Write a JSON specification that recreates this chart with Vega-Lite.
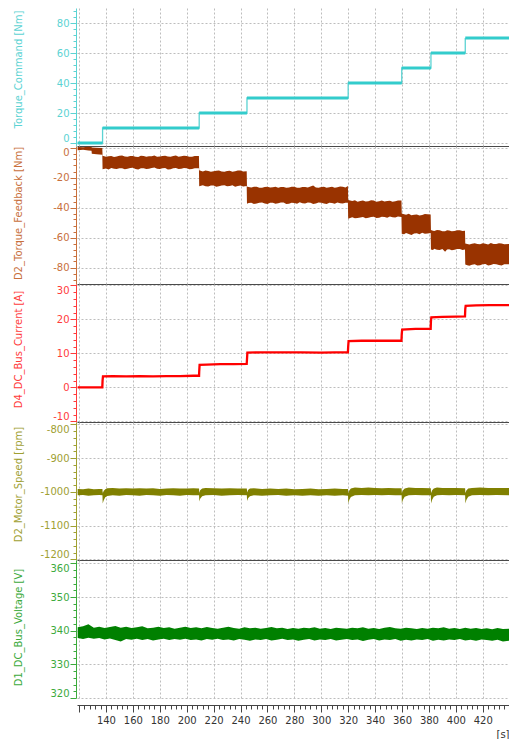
{
  "$schema": "https://vega.github.io/schema/vega-lite/v6.json",
  "padding": {"left": 13, "top": 8, "right": 0, "bottom": 0},
  "background": "white",
  "spacing": 0,
  "bounds": "flush",
  "config": {
    "view": {"stroke": null},
    "axis": {
      "labelFont": "DejaVu Sans",
      "titleFont": "DejaVu Sans",
      "labelFontSize": 10,
      "titleFontSize": 10,
      "titleFontWeight": "normal",
      "gridDash": [2, 2],
      "gridColor": "#BDBDBD",
      "gridWidth": 1,
      "tickWidth": 1,
      "domainWidth": 1
    }
  },
  "datasets": {
    "cmd": [
      {"t0": 119, "t1": 137.5, "v": 0},
      {"t0": 137.5, "t1": 209.3, "v": 10},
      {"t0": 209.3, "t1": 244.8, "v": 20},
      {"t0": 244.8, "t1": 320, "v": 30},
      {"t0": 320, "t1": 359.8, "v": 40},
      {"t0": 359.8, "t1": 381.5, "v": 50},
      {"t0": 381.5, "t1": 407, "v": 60},
      {"t0": 407, "t1": 439.5, "v": 70}
    ],
    "fb": [
      {"t": 119, "lo": -1.8, "hi": 0.4}, {"t": 123, "lo": -1.5, "hi": 0.2}, {"t": 127, "lo": -2.0, "hi": 0.5},
      {"t": 129.3, "lo": -2.2, "hi": 0.3}, {"t": 129.5, "lo": -4.2, "hi": 0}, {"t": 133, "lo": -4.5, "hi": -0.2},
      {"t": 137.3, "lo": -4.8, "hi": -0.3},
      {"t": 137.5, "lo": -14.5, "hi": -5.5}, {"t": 140, "lo": -14.0, "hi": -6.2}, {"t": 142, "lo": -14.6, "hi": -5.8}, {"t": 144, "lo": -13.6, "hi": -5.6},
      {"t": 146, "lo": -14.1, "hi": -6.3}, {"t": 148, "lo": -14.4, "hi": -6.0}, {"t": 150, "lo": -13.9, "hi": -5.5}, {"t": 152, "lo": -13.8, "hi": -5.4}, {"t": 154, "lo": -14.5, "hi": -6.0}, {"t": 156, "lo": -14.2, "hi": -6.1},
      {"t": 158, "lo": -13.7, "hi": -5.6}, {"t": 160, "lo": -13.5, "hi": -5.7}, {"t": 162, "lo": -14.3, "hi": -6.2}, {"t": 164, "lo": -14.6, "hi": -6.3}, {"t": 166, "lo": -13.8, "hi": -5.5}, {"t": 168, "lo": -13.9, "hi": -5.6},
      {"t": 170, "lo": -14.4, "hi": -6.1}, {"t": 172, "lo": -14.1, "hi": -5.9}, {"t": 174, "lo": -13.6, "hi": -5.8}, {"t": 176, "lo": -13.4, "hi": -5.3}, {"t": 178, "lo": -14.2, "hi": -6.2}, {"t": 180, "lo": -14.3, "hi": -6.0},
      {"t": 182, "lo": -13.8, "hi": -5.7}, {"t": 184, "lo": -13.7, "hi": -5.5}, {"t": 186, "lo": -14.6, "hi": -6.0}, {"t": 188, "lo": -14.5, "hi": -6.2}, {"t": 190, "lo": -13.9, "hi": -5.6}, {"t": 192, "lo": -13.6, "hi": -5.4},
      {"t": 194, "lo": -14.4, "hi": -6.1}, {"t": 196, "lo": -14.2, "hi": -5.9}, {"t": 198, "lo": -13.7, "hi": -5.5}, {"t": 200, "lo": -13.8, "hi": -5.6}, {"t": 202, "lo": -14.5, "hi": -6.2}, {"t": 204, "lo": -14.4, "hi": -6.1},
      {"t": 206, "lo": -13.8, "hi": -5.6}, {"t": 209.1, "lo": -13.9, "hi": -5.7},
      {"t": 209.3, "lo": -25.8, "hi": -15.2}, {"t": 212, "lo": -25.2, "hi": -16.0}, {"t": 214, "lo": -25.9, "hi": -15.4}, {"t": 216, "lo": -26.0, "hi": -15.6},
      {"t": 218, "lo": -25.3, "hi": -16.2}, {"t": 220, "lo": -25.4, "hi": -15.9}, {"t": 222, "lo": -26.1, "hi": -15.5}, {"t": 224, "lo": -25.9, "hi": -15.3}, {"t": 226, "lo": -25.4, "hi": -16.0}, {"t": 228, "lo": -25.1, "hi": -16.1},
      {"t": 230, "lo": -25.9, "hi": -15.6}, {"t": 232, "lo": -25.7, "hi": -15.5}, {"t": 234, "lo": -25.2, "hi": -16.1}, {"t": 236, "lo": -26.2, "hi": -15.8}, {"t": 238, "lo": -25.6, "hi": -15.3}, {"t": 240, "lo": -25.3, "hi": -15.4},
      {"t": 242, "lo": -26.0, "hi": -16.0}, {"t": 244.6, "lo": -25.6, "hi": -15.9},
      {"t": 244.8, "lo": -37.5, "hi": -26.0}, {"t": 246, "lo": -37.0, "hi": -26.4}, {"t": 248, "lo": -36.8, "hi": -26.6}, {"t": 250, "lo": -37.6, "hi": -26.1}, {"t": 252, "lo": -37.3, "hi": -26.2},
      {"t": 254, "lo": -36.9, "hi": -26.9}, {"t": 256, "lo": -36.6, "hi": -26.8}, {"t": 258, "lo": -37.4, "hi": -26.3}, {"t": 260, "lo": -37.6, "hi": -26.1}, {"t": 262, "lo": -36.8, "hi": -26.7}, {"t": 264, "lo": -36.9, "hi": -26.5},
      {"t": 266, "lo": -37.5, "hi": -26.2}, {"t": 268, "lo": -37.2, "hi": -26.9}, {"t": 270, "lo": -36.6, "hi": -26.4}, {"t": 272, "lo": -36.7, "hi": -26.3}, {"t": 274, "lo": -37.6, "hi": -26.8}, {"t": 276, "lo": -37.5, "hi": -26.7},
      {"t": 278, "lo": -36.9, "hi": -26.1}, {"t": 280, "lo": -37.0, "hi": -26.2}, {"t": 282, "lo": -37.5, "hi": -26.9}, {"t": 284, "lo": -36.5, "hi": -26.8}, {"t": 286, "lo": -37.1, "hi": -26.3}, {"t": 288, "lo": -37.4, "hi": -26.4},
      {"t": 290, "lo": -36.7, "hi": -26.7}, {"t": 292, "lo": -36.8, "hi": -26.0}, {"t": 294, "lo": -37.6, "hi": -25.4}, {"t": 296, "lo": -37.3, "hi": -26.6}, {"t": 298, "lo": -36.6, "hi": -26.9}, {"t": 300, "lo": -36.9, "hi": -26.3},
      {"t": 302, "lo": -37.4, "hi": -26.1}, {"t": 304, "lo": -37.6, "hi": -26.9}, {"t": 306, "lo": -36.8, "hi": -26.5}, {"t": 308, "lo": -37.0, "hi": -26.1}, {"t": 310, "lo": -37.5, "hi": -26.8}, {"t": 312, "lo": -36.7, "hi": -26.5},
      {"t": 314, "lo": -37.2, "hi": -26.0}, {"t": 316, "lo": -37.4, "hi": -26.2}, {"t": 318, "lo": -36.8, "hi": -26.7}, {"t": 319.8, "lo": -36.9, "hi": -25.6},
      {"t": 320, "lo": -47.5, "hi": -35.0}, {"t": 321.5, "lo": -47.0, "hi": -35.3}, {"t": 323, "lo": -46.5, "hi": -35.6}, {"t": 325, "lo": -47.2, "hi": -35.1}, {"t": 327, "lo": -47.0, "hi": -36.2},
      {"t": 329, "lo": -46.6, "hi": -35.7}, {"t": 331, "lo": -46.3, "hi": -35.4}, {"t": 333, "lo": -47.1, "hi": -36.0}, {"t": 335, "lo": -46.8, "hi": -35.9}, {"t": 337, "lo": -46.4, "hi": -35.2}, {"t": 339, "lo": -46.2, "hi": -35.3},
      {"t": 341, "lo": -47.0, "hi": -36.1}, {"t": 343, "lo": -46.9, "hi": -35.8}, {"t": 345, "lo": -46.1, "hi": -35.4}, {"t": 347, "lo": -46.4, "hi": -36.0}, {"t": 349, "lo": -46.9, "hi": -35.6}, {"t": 351, "lo": -46.0, "hi": -35.5},
      {"t": 353, "lo": -46.5, "hi": -36.1}, {"t": 355, "lo": -46.7, "hi": -35.8}, {"t": 357, "lo": -46.0, "hi": -35.3}, {"t": 359.6, "lo": -46.3, "hi": -35.4},
      {"t": 359.8, "lo": -57.5, "hi": -44.0}, {"t": 361.5, "lo": -57.9, "hi": -44.5}, {"t": 363, "lo": -57.0, "hi": -44.8}, {"t": 365, "lo": -57.6, "hi": -44.2}, {"t": 367, "lo": -58.3, "hi": -45.2},
      {"t": 369, "lo": -57.4, "hi": -44.9}, {"t": 371, "lo": -57.2, "hi": -44.6}, {"t": 373, "lo": -57.8, "hi": -45.3}, {"t": 375, "lo": -56.8, "hi": -45.0}, {"t": 377, "lo": -57.5, "hi": -44.4}, {"t": 379, "lo": -57.4, "hi": -44.5},
      {"t": 381.3, "lo": -57.0, "hi": -44.7},
      {"t": 381.5, "lo": -68.0, "hi": -55.0}, {"t": 383, "lo": -68.4, "hi": -55.5}, {"t": 384, "lo": -67.5, "hi": -55.6}, {"t": 386, "lo": -68.1, "hi": -55.0}, {"t": 388, "lo": -68.3, "hi": -55.2},
      {"t": 390, "lo": -67.7, "hi": -55.9}, {"t": 392, "lo": -69.5, "hi": -55.8}, {"t": 393.5, "lo": -68.0, "hi": -55.1}, {"t": 395, "lo": -67.8, "hi": -55.3}, {"t": 397, "lo": -68.5, "hi": -55.8}, {"t": 399, "lo": -68.2, "hi": -55.7},
      {"t": 401, "lo": -67.6, "hi": -55.2}, {"t": 403, "lo": -67.6, "hi": -55.1}, {"t": 405, "lo": -68.3, "hi": -55.7}, {"t": 406.8, "lo": -68.0, "hi": -55.5},
      {"t": 407, "lo": -78.0, "hi": -64.0}, {"t": 408.5, "lo": -78.5, "hi": -64.3}, {"t": 410, "lo": -78.8, "hi": -64.6}, {"t": 412, "lo": -78.2, "hi": -64.1}, {"t": 414, "lo": -77.9, "hi": -63.8},
      {"t": 416, "lo": -78.7, "hi": -64.4}, {"t": 418, "lo": -78.5, "hi": -64.5}, {"t": 420, "lo": -77.8, "hi": -63.9}, {"t": 422, "lo": -77.6, "hi": -64.2}, {"t": 424, "lo": -78.6, "hi": -64.6}, {"t": 426, "lo": -78.3, "hi": -63.7},
      {"t": 428, "lo": -77.7, "hi": -64.3}, {"t": 430, "lo": -77.8, "hi": -64.4}, {"t": 432, "lo": -78.4, "hi": -63.9}, {"t": 434, "lo": -78.6, "hi": -64.0}, {"t": 436, "lo": -77.9, "hi": -64.5}, {"t": 439.5, "lo": -77.9, "hi": -64.3}
    ],
    "cur": [
      {"t": 119, "v": 0}, {"t": 137.3, "v": 0}, {"t": 137.5, "v": 2.0}, {"t": 137.8, "v": 3.2},
      {"t": 145, "v": 3.3}, {"t": 155, "v": 3.2}, {"t": 165, "v": 3.3}, {"t": 175, "v": 3.2},
      {"t": 185, "v": 3.3}, {"t": 195, "v": 3.3}, {"t": 205, "v": 3.4}, {"t": 209.2, "v": 3.4},
      {"t": 209.3, "v": 4.6}, {"t": 209.6, "v": 6.6}, {"t": 215, "v": 6.7}, {"t": 225, "v": 6.8},
      {"t": 235, "v": 6.8}, {"t": 244.6, "v": 6.9}, {"t": 244.8, "v": 8.2}, {"t": 245.1, "v": 10.2},
      {"t": 255, "v": 10.3}, {"t": 270, "v": 10.3}, {"t": 285, "v": 10.3}, {"t": 300, "v": 10.2},
      {"t": 310, "v": 10.3}, {"t": 319.8, "v": 10.3}, {"t": 320, "v": 12.0}, {"t": 320.3, "v": 13.6},
      {"t": 330, "v": 13.7}, {"t": 340, "v": 13.7}, {"t": 350, "v": 13.7}, {"t": 359.6, "v": 13.7},
      {"t": 359.8, "v": 15.6}, {"t": 360.1, "v": 17.0}, {"t": 370, "v": 17.2}, {"t": 381.3, "v": 17.2},
      {"t": 381.5, "v": 19.5}, {"t": 381.8, "v": 20.6}, {"t": 390, "v": 20.7}, {"t": 400, "v": 20.8},
      {"t": 406.8, "v": 20.9}, {"t": 407, "v": 23.0}, {"t": 407.3, "v": 24.0}, {"t": 415, "v": 24.1},
      {"t": 425, "v": 24.2}, {"t": 439.5, "v": 24.2}
    ],
    "spd": [
      {"t": 119, "lo": -1010, "hi": -991}, {"t": 123, "lo": -1009, "hi": -992}, {"t": 127, "lo": -1011, "hi": -990},
      {"t": 131, "lo": -1010, "hi": -992}, {"t": 135, "lo": -1009, "hi": -991}, {"t": 137.4, "lo": -1010, "hi": -991},
      {"t": 137.6, "lo": -1034, "hi": -1005}, {"t": 138.3, "lo": -1025, "hi": -997}, {"t": 139.5, "lo": -1016, "hi": -992},
      {"t": 141, "lo": -1012, "hi": -989}, {"t": 145, "lo": -1010, "hi": -988}, {"t": 150, "lo": -1011, "hi": -990},
      {"t": 155, "lo": -1009, "hi": -989}, {"t": 160, "lo": -1010, "hi": -990}, {"t": 165, "lo": -1011, "hi": -989},
      {"t": 170, "lo": -1009, "hi": -990}, {"t": 175, "lo": -1010, "hi": -989}, {"t": 180, "lo": -1011, "hi": -991},
      {"t": 185, "lo": -1009, "hi": -990}, {"t": 190, "lo": -1010, "hi": -989}, {"t": 195, "lo": -1011, "hi": -990},
      {"t": 200, "lo": -1009, "hi": -990}, {"t": 205, "lo": -1010, "hi": -989}, {"t": 209.2, "lo": -1010, "hi": -990},
      {"t": 209.4, "lo": -1028, "hi": -1003}, {"t": 210, "lo": -1020, "hi": -995}, {"t": 211.5, "lo": -1013, "hi": -990},
      {"t": 214, "lo": -1010, "hi": -988}, {"t": 220, "lo": -1009, "hi": -989}, {"t": 226, "lo": -1011, "hi": -990},
      {"t": 232, "lo": -1010, "hi": -989}, {"t": 238, "lo": -1009, "hi": -990}, {"t": 244.7, "lo": -1010, "hi": -990},
      {"t": 244.9, "lo": -1027, "hi": -1002}, {"t": 245.6, "lo": -1019, "hi": -994}, {"t": 247, "lo": -1013, "hi": -990},
      {"t": 250, "lo": -1010, "hi": -989}, {"t": 256, "lo": -1011, "hi": -991}, {"t": 262, "lo": -1010, "hi": -990},
      {"t": 268, "lo": -1009, "hi": -991}, {"t": 274, "lo": -1011, "hi": -990}, {"t": 280, "lo": -1010, "hi": -992},
      {"t": 286, "lo": -1011, "hi": -991}, {"t": 292, "lo": -1010, "hi": -990}, {"t": 298, "lo": -1011, "hi": -992},
      {"t": 304, "lo": -1010, "hi": -991}, {"t": 310, "lo": -1011, "hi": -990}, {"t": 316, "lo": -1010, "hi": -991},
      {"t": 319.9, "lo": -1011, "hi": -991},
      {"t": 320.1, "lo": -1034, "hi": -1004}, {"t": 320.8, "lo": -1024, "hi": -996}, {"t": 322, "lo": -1015, "hi": -990},
      {"t": 325, "lo": -1010, "hi": -987}, {"t": 330, "lo": -1009, "hi": -988}, {"t": 335, "lo": -1010, "hi": -987},
      {"t": 340, "lo": -1009, "hi": -988}, {"t": 345, "lo": -1010, "hi": -989}, {"t": 350, "lo": -1009, "hi": -988},
      {"t": 355, "lo": -1010, "hi": -989}, {"t": 359.7, "lo": -1010, "hi": -989},
      {"t": 359.9, "lo": -1034, "hi": -1004}, {"t": 360.6, "lo": -1024, "hi": -996}, {"t": 362, "lo": -1014, "hi": -990},
      {"t": 365, "lo": -1010, "hi": -987}, {"t": 370, "lo": -1009, "hi": -988}, {"t": 375, "lo": -1010, "hi": -988},
      {"t": 381.4, "lo": -1010, "hi": -989},
      {"t": 381.6, "lo": -1034, "hi": -1004}, {"t": 382.3, "lo": -1024, "hi": -996}, {"t": 383.6, "lo": -1014, "hi": -990},
      {"t": 386, "lo": -1010, "hi": -987}, {"t": 390, "lo": -1009, "hi": -988}, {"t": 395, "lo": -1010, "hi": -988},
      {"t": 400, "lo": -1009, "hi": -988}, {"t": 406.9, "lo": -1010, "hi": -989},
      {"t": 407.1, "lo": -1034, "hi": -1004}, {"t": 407.8, "lo": -1024, "hi": -996}, {"t": 409.2, "lo": -1014, "hi": -990},
      {"t": 412, "lo": -1010, "hi": -988}, {"t": 418, "lo": -1009, "hi": -987}, {"t": 424, "lo": -1010, "hi": -988},
      {"t": 430, "lo": -1009, "hi": -988}, {"t": 439.5, "lo": -1010, "hi": -988}
    ],
    "vlt": [
      {"t": 119, "lo": 337.8, "hi": 341.0}, {"t": 123, "lo": 337.5, "hi": 341.3}, {"t": 127, "lo": 337.9, "hi": 341.9},
      {"t": 131, "lo": 337.6, "hi": 340.9}, {"t": 135, "lo": 337.8, "hi": 341.2}, {"t": 139, "lo": 337.4, "hi": 340.8},
      {"t": 143, "lo": 337.7, "hi": 341.1}, {"t": 147, "lo": 337.2, "hi": 341.4}, {"t": 151, "lo": 336.8, "hi": 340.9},
      {"t": 155, "lo": 337.5, "hi": 341.2}, {"t": 159, "lo": 337.3, "hi": 340.8}, {"t": 163, "lo": 337.6, "hi": 341.0},
      {"t": 167, "lo": 337.2, "hi": 341.3}, {"t": 171, "lo": 337.5, "hi": 340.7}, {"t": 175, "lo": 337.1, "hi": 340.9},
      {"t": 179, "lo": 337.4, "hi": 341.2}, {"t": 183, "lo": 337.6, "hi": 340.8}, {"t": 187, "lo": 337.2, "hi": 341.0},
      {"t": 191, "lo": 337.5, "hi": 340.6}, {"t": 195, "lo": 337.3, "hi": 340.9}, {"t": 199, "lo": 337.6, "hi": 341.2},
      {"t": 203, "lo": 337.2, "hi": 340.8}, {"t": 207, "lo": 337.4, "hi": 341.0}, {"t": 211, "lo": 337.1, "hi": 340.7},
      {"t": 215, "lo": 337.5, "hi": 341.1}, {"t": 219, "lo": 337.3, "hi": 340.8}, {"t": 223, "lo": 337.6, "hi": 340.6},
      {"t": 227, "lo": 337.2, "hi": 340.9}, {"t": 231, "lo": 337.4, "hi": 341.2}, {"t": 235, "lo": 337.1, "hi": 340.8},
      {"t": 239, "lo": 337.5, "hi": 340.6}, {"t": 243, "lo": 337.3, "hi": 341.0}, {"t": 247, "lo": 337.0, "hi": 340.7},
      {"t": 251, "lo": 337.4, "hi": 340.9}, {"t": 255, "lo": 337.2, "hi": 340.6}, {"t": 259, "lo": 337.5, "hi": 340.8},
      {"t": 263, "lo": 337.1, "hi": 341.1}, {"t": 267, "lo": 337.3, "hi": 340.7}, {"t": 271, "lo": 337.6, "hi": 340.9},
      {"t": 275, "lo": 337.2, "hi": 340.5}, {"t": 279, "lo": 337.4, "hi": 340.8}, {"t": 283, "lo": 337.0, "hi": 340.6},
      {"t": 287, "lo": 337.3, "hi": 340.9}, {"t": 291, "lo": 337.5, "hi": 340.7}, {"t": 295, "lo": 337.1, "hi": 341.0},
      {"t": 299, "lo": 337.4, "hi": 340.6}, {"t": 303, "lo": 337.2, "hi": 340.8}, {"t": 307, "lo": 337.5, "hi": 340.5},
      {"t": 311, "lo": 337.1, "hi": 340.9}, {"t": 315, "lo": 337.3, "hi": 340.7}, {"t": 319, "lo": 337.5, "hi": 340.6},
      {"t": 323, "lo": 337.2, "hi": 340.9}, {"t": 327, "lo": 337.4, "hi": 340.7}, {"t": 331, "lo": 336.9, "hi": 341.0},
      {"t": 335, "lo": 337.3, "hi": 340.6}, {"t": 339, "lo": 337.5, "hi": 340.8}, {"t": 343, "lo": 337.1, "hi": 340.5},
      {"t": 347, "lo": 337.4, "hi": 340.9}, {"t": 351, "lo": 337.2, "hi": 341.1}, {"t": 355, "lo": 337.5, "hi": 340.7},
      {"t": 359, "lo": 337.0, "hi": 340.6}, {"t": 363, "lo": 337.3, "hi": 340.9}, {"t": 367, "lo": 337.1, "hi": 340.7},
      {"t": 371, "lo": 337.4, "hi": 340.5}, {"t": 375, "lo": 337.2, "hi": 340.8}, {"t": 379, "lo": 337.5, "hi": 340.6},
      {"t": 383, "lo": 337.0, "hi": 340.9}, {"t": 387, "lo": 337.3, "hi": 340.7}, {"t": 391, "lo": 337.1, "hi": 341.0},
      {"t": 395, "lo": 337.4, "hi": 340.6}, {"t": 399, "lo": 337.2, "hi": 340.8}, {"t": 403, "lo": 337.5, "hi": 340.5},
      {"t": 407, "lo": 337.1, "hi": 340.9}, {"t": 411, "lo": 337.3, "hi": 340.6}, {"t": 415, "lo": 337.0, "hi": 340.8},
      {"t": 419, "lo": 337.4, "hi": 340.5}, {"t": 423, "lo": 337.2, "hi": 340.7}, {"t": 427, "lo": 337.0, "hi": 340.4},
      {"t": 431, "lo": 337.3, "hi": 340.8}, {"t": 435, "lo": 336.8, "hi": 340.5}, {"t": 439.5, "lo": 337.0, "hi": 340.6}
    ]
  },
  "vconcat": [
    {
      "width": 432,
      "height": 138,
      "data": {"name": "cmd"},
      "encoding": {
        "x": {"field": "t0", "type": "quantitative",
          "scale": {"domain": [118.5, 439.5], "nice": false, "zero": false},
          "axis": {"title": null, "values": [120, 140, 160, 180, 200, 220, 240, 260, 280, 300, 320, 340, 360, 380, 400, 420],
            "labels": false, "ticks": false, "domainColor": "#4A4A4A", "grid": true}},
        "y": {"field": "v", "type": "quantitative",
          "scale": {"domain": [-2, 90], "nice": false, "zero": false},
          "axis": {"title": "Torque_Command [Nm]", "titleColor": "#5CD3D3", "titleX": -53, "titleY": 61,
            "values": [0, 4, 8, 12, 16, 20, 24, 28, 32, 36, 40, 44, 48, 52, 56, 60, 64, 68, 72, 76, 80, 84, 88],
            "labelExpr": "datum.value % 20 === 0 ? '' + datum.value : ''",
            "labelColor": "#5CD3D3", "domainColor": "#5CD3D3", "tickColor": "#5CD3D3",
            "tickSize": {"condition": {"test": "datum.value % 20 === 0", "value": 6}, "value": 3},
            "gridOpacity": {"condition": {"test": "datum.value % 20 === 0", "value": 1}, "value": 0},
            "offset": 1, "labelPadding": 1, "labelFlush": 6, "labelOverlap": false, "grid": true}}
      },
      "layer": [
        {"mark": {"type": "line", "interpolate": "step-after", "color": "#5CD3D3", "strokeWidth": 1.3, "clip": true}},
        {"mark": {"type": "rule", "color": "#33CCCC", "strokeWidth": 3, "clip": true},
          "encoding": {"x2": {"field": "t1"}}}
      ]
    },
    {
      "width": 432,
      "height": 138,
      "data": {"name": "fb"},
      "mark": {"type": "area", "color": "#993300", "opacity": 1, "clip": true},
      "encoding": {
        "x": {"field": "t", "type": "quantitative",
          "scale": {"domain": [118.5, 439.5], "nice": false, "zero": false},
          "axis": {"title": null, "values": [120, 140, 160, 180, 200, 220, 240, 260, 280, 300, 320, 340, 360, 380, 400, 420],
            "labels": false, "ticks": false, "domainColor": "#4A4A4A", "grid": true}},
        "y": {"field": "lo", "type": "quantitative",
          "scale": {"domain": [-91, 1], "nice": false, "zero": false},
          "axis": {"title": "D2_Torque_Feedback [Nm]", "titleColor": "#C8703C", "titleX": -53, "titleY": 67,
            "values": [-88, -84, -80, -76, -72, -68, -64, -60, -56, -52, -48, -44, -40, -36, -32, -28, -24, -20, -16, -12, -8, -4, 0],
            "labelExpr": "datum.value % 20 === 0 ? '' + datum.value : ''",
            "labelColor": "#C8703C", "domainColor": "#C8703C", "tickColor": "#C8703C",
            "tickSize": {"condition": {"test": "datum.value % 20 === 0", "value": 6}, "value": 3},
            "gridOpacity": {"condition": {"test": "datum.value % 20 === 0", "value": 1}, "value": 0},
            "offset": 1, "labelPadding": 1, "labelFlush": 6, "labelOverlap": false, "grid": true}},
        "y2": {"field": "hi"}
      }
    },
    {
      "width": 432,
      "height": 138,
      "data": {"name": "cur"},
      "mark": {"type": "line", "color": "#FF0000", "strokeWidth": 2.3, "clip": true},
      "encoding": {
        "x": {"field": "t", "type": "quantitative",
          "scale": {"domain": [118.5, 439.5], "nice": false, "zero": false},
          "axis": {"title": null, "values": [120, 140, 160, 180, 200, 220, 240, 260, 280, 300, 320, 340, 360, 380, 400, 420],
            "labels": false, "ticks": false, "domainColor": "#4A4A4A", "grid": true}},
        "y": {"field": "v", "type": "quantitative",
          "scale": {"domain": [-10.2, 30.4], "nice": false, "zero": false},
          "axis": {"title": "D4_DC_Bus_Current [A]", "titleColor": "#FF3B3B", "titleX": -53, "titleY": 65,
            "values": [-10, -8, -6, -4, -2, 0, 2, 4, 6, 8, 10, 12, 14, 16, 18, 20, 22, 24, 26, 28, 30],
            "labelExpr": "datum.value % 10 === 0 ? '' + datum.value : ''",
            "labelColor": "#FF3B3B", "domainColor": "#FF3B3B", "tickColor": "#FF3B3B",
            "tickSize": {"condition": {"test": "datum.value % 10 === 0", "value": 6}, "value": 3},
            "gridOpacity": {"condition": {"test": "datum.value % 10 === 0", "value": 1}, "value": 0},
            "offset": 1, "labelPadding": 1, "labelFlush": 6, "labelOverlap": false, "grid": true}}
      }
    },
    {
      "width": 432,
      "height": 138,
      "data": {"name": "spd"},
      "mark": {"type": "area", "color": "#808000", "opacity": 1, "clip": true},
      "encoding": {
        "x": {"field": "t", "type": "quantitative",
          "scale": {"domain": [118.5, 439.5], "nice": false, "zero": false},
          "axis": {"title": null, "values": [120, 140, 160, 180, 200, 220, 240, 260, 280, 300, 320, 340, 360, 380, 400, 420],
            "labels": false, "ticks": false, "domainColor": "#4A4A4A", "grid": true}},
        "y": {"field": "lo", "type": "quantitative",
          "scale": {"domain": [-1201.5, -793], "nice": false, "zero": false},
          "axis": {"title": "D2_Motor_Speed [rpm]", "titleColor": "#A0A032", "titleX": -53, "titleY": 62,
            "values": [-1200, -1180, -1160, -1140, -1120, -1100, -1080, -1060, -1040, -1020, -1000, -980, -960, -940, -920, -900, -880, -860, -840, -820, -800],
            "labelExpr": "datum.value % 100 === 0 ? '' + datum.value : ''",
            "labelColor": "#A0A032", "domainColor": "#A0A032", "tickColor": "#A0A032",
            "tickSize": {"condition": {"test": "datum.value % 100 === 0", "value": 6}, "value": 3},
            "gridOpacity": {"condition": {"test": "datum.value % 100 === 0", "value": 1}, "value": 0},
            "offset": 1, "labelPadding": 1, "labelFlush": 6, "labelOverlap": false, "grid": true}},
        "y2": {"field": "hi"}
      }
    },
    {
      "width": 432,
      "height": 138,
      "data": {"name": "vlt"},
      "mark": {"type": "area", "color": "#008000", "opacity": 1, "clip": true},
      "encoding": {
        "x": {"field": "t", "type": "quantitative",
          "scale": {"domain": [118.5, 439.5], "nice": false, "zero": false},
          "axis": {"title": "[s]", "titleColor": "#333333", "titleAnchor": "end", "titleAlign": "right", "titlePadding": 4,
            "values": [120, 124, 128, 132, 136, 140, 144, 148, 152, 156, 160, 164, 168, 172, 176, 180, 184, 188, 192, 196, 200, 204, 208, 212, 216, 220, 224, 228, 232, 236, 240, 244, 248, 252, 256, 260, 264, 268, 272, 276, 280, 284, 288, 292, 296, 300, 304, 308, 312, 316, 320, 324, 328, 332, 336, 340, 344, 348, 352, 356, 360, 364, 368, 372, 376, 380, 384, 388, 392, 396, 400, 404, 408, 412, 416, 420, 424, 428, 432, 436],
            "labelExpr": "datum.value % 20 === 0 && datum.value >= 140 ? '' + datum.value : ''",
            "labelColor": "#333333", "domainColor": "#444444", "tickColor": "#444444",
            "tickSize": {"condition": {"test": "datum.value % 20 === 0", "value": 7}, "value": 4},
            "gridOpacity": {"condition": {"test": "datum.value % 20 === 0", "value": 1}, "value": 0},
            "offset": 7, "labelPadding": 3, "labelFlush": false, "labelOverlap": false, "grid": true}},
        "y": {"field": "lo", "type": "quantitative",
          "scale": {"domain": [320, 361], "nice": false, "zero": false},
          "axis": {"title": "D1_DC_Bus_Voltage [V]", "titleColor": "#3CAA3C", "titleX": -53, "titleY": 67,
            "values": [320, 322, 324, 326, 328, 330, 332, 334, 336, 338, 340, 342, 344, 346, 348, 350, 352, 354, 356, 358, 360],
            "labelExpr": "datum.value % 10 === 0 ? '' + datum.value : ''",
            "labelColor": "#3CAA3C", "domainColor": "#3CAA3C", "tickColor": "#3CAA3C",
            "tickSize": {"condition": {"test": "datum.value % 10 === 0", "value": 6}, "value": 3},
            "gridOpacity": {"condition": {"test": "datum.value % 10 === 0", "value": 1}, "value": 0},
            "offset": 1, "labelPadding": 1, "labelFlush": 6, "labelOverlap": false, "grid": true}},
        "y2": {"field": "hi"}
      }
    }
  ]
}
